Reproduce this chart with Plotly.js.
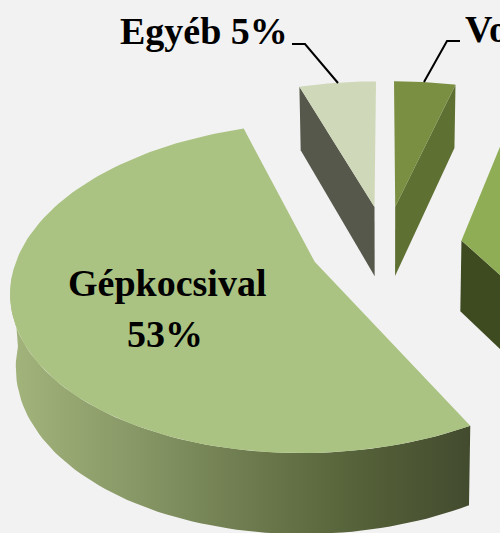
<!DOCTYPE html>
<html><head><meta charset="utf-8">
<script src="https://cdn.plot.ly/plotly-3.0.1.min.js"></script>
<style>html,body{margin:0;padding:0;background:#f2f2f2;overflow:hidden}</style></head>
<body><div id="chart" style="width:500px;height:533px"></div>
<script>
// clockwise from 12 o'clock
const categories = ["Vonattal", "Busszal", "Gépkocsival", "Egyéb"];
const values = [4, 38, 53, 5];
const topColors = ["#7a8f42", "#8fad55", "#abc382", "#cfd8b8"];
const wallColors = ["#5f7033", "#3e4a20", "#7c8a5c", "#55584a"];
const frontGradient = [[0,"#a3b47c"],[0.25,"#8a9a68"],[0.5,"#6f7d50"],[0.75,"#566239"],[1,"#434b2f"]];

// view of the tilted pie
const Xo=386, Yo=245.5, A=294, B=156, q=0.155, r=0, explode=0.26;
function proj(u,v){const d=1+q*v+r*u;return [Xo+A*u/d,Yo-B*v/d,d];}
function under(p){return [Xo+(p[0]-Xo)*0.985,p[1]+23+48/p[2]];}
const total=values.reduce((a,b)=>a+b,0);
const rad=Math.PI/180;
let cum=0;
const slices=values.map((val,i)=>{const a0=cum/total*360;cum+=val;const a1=cum/total*360;
  const m=(a0+a1)/2*rad;
  return {i,a0,a1,ou:explode*Math.sin(m),ov:explode*Math.cos(m)};});
function rim(s,deg){return proj(s.ou+Math.sin(deg*rad),s.ov+Math.cos(deg*rad));}
function poly(pts,extra){return Object.assign({type:"scatter",mode:"lines",x:pts.map(p=>p[0]),y:pts.map(p=>p[1]),
  fill:"toself",line:{width:0},hoverinfo:"skip",showlegend:false},extra);}
const traces=[];
// walls and tops, back to front
[3,0,1,2].forEach(k=>{
  const s=slices[k], apex=proj(s.ou,s.ov);
  const arc=[];for(let a=s.a0;a<=s.a1+1e-6;a+=(s.a1-s.a0)/120)arc.push(a);
  const wall=wallColors[k];
  // visible straight side walls
  [[s.a0,-90],[s.a1,90]].forEach(([a,n])=>{
    if(Math.cos((a+n)*rad)<-0.02){const p=rim(s,a);
      traces.push(poly([apex,p,under(p),under(apex),apex],{fillcolor:wall}));}
  });
  // visible curved wall
  const front=arc.filter(a=>Math.cos(a*rad)<-0.05);
  if(front.length>1){const t=front.map(a=>rim(s,a));
    const pts=t.concat(t.slice().reverse().map(under));pts.push(t[0]);
    const extra=k===2?{fillgradient:{type:"horizontal",colorscale:frontGradient}}:{fillcolor:wall};
    traces.push(poly(pts,extra));}
  const top=[apex].concat(arc.map(a=>rim(s,a)));top.push(apex);
  traces.push(poly(top,{fillcolor:topColors[k]}));
});
// label leader lines
const leaderX=[[292,305,338],[460,447,424]], leaderY=[[44,44,83],[41,41,82]];
leaderX.forEach((lx,i)=>traces.push({type:"scatter",mode:"lines",x:lx,y:leaderY[i],line:{color:"#000",width:2},hoverinfo:"skip",showlegend:false}));

const font={family:"Liberation Serif",size:38,color:"#000"};
function lab(text,x,y,anchor){return {text:"<b>"+text+"</b>",x,y,xref:"x",yref:"y",showarrow:false,xanchor:anchor,yanchor:"middle",font};}
const layout={width:500,height:533,margin:{l:0,r:0,t:0,b:0},paper_bgcolor:"#f2f2f2",plot_bgcolor:"#f2f2f2",showlegend:false,
  xaxis:{range:[0,500],visible:false,fixedrange:true},
  yaxis:{range:[533,0],visible:false,fixedrange:true},
  annotations:[
    lab(categories[3]+" "+values[3]+"%",290,31,"right"),
    lab(categories[0]+" "+values[0]+"%",463,29,"left"),
    lab(categories[2],167,283,"center"),
    lab(values[2]+"%",165,334,"center")
  ]};
Plotly.newPlot("chart",traces,layout,{displayModeBar:false,staticPlot:true});
</script></body></html>
